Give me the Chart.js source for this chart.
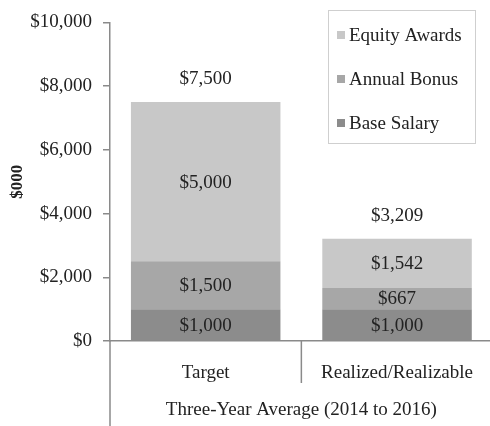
<!DOCTYPE html>
<html>
<head>
<meta charset="utf-8">
<script src="https://cdn.jsdelivr.net/npm/chart.js@4/dist/chart.umd.min.js"></script>
<style>
  html, body { margin: 0; padding: 0; background: #fff; overflow: hidden; }
  #wrap { width: 490px; height: 426px; overflow: hidden; }
</style>
</head>
<body>
<div id="wrap"><canvas id="c" width="494" height="426"></canvas></div>
<script>
const categories = ['Target', 'Realized/Realizable'];
const baseSalary = [1000, 1000];
const annualBonus = [1500, 667];
const equityAwards = [5000, 1542];
const yTicks = [0, 2000, 4000, 6000, 8000, 10000];

const FONT = "'Liberation Serif', 'Times New Roman', serif";
const TEXT = '#222222';
const AXIS = '#8a8a8a';
const fmt = v => '$' + Math.round(v).toLocaleString('en-US');

Chart.defaults.font.family = FONT;
Chart.defaults.font.size = 19;
Chart.defaults.color = TEXT;

const labelPlugin = {
  id: 'labels',
  afterDatasetsDraw(chart) {
    const ctx = chart.ctx;
    ctx.save();
    ctx.font = '19px ' + FONT;
    ctx.fillStyle = TEXT;
    ctx.textAlign = 'center';
    ctx.textBaseline = 'middle';
    const n = chart.data.datasets.length;
    chart.data.datasets.forEach((ds, di) => {
      const meta = chart.getDatasetMeta(di);
      meta.data.forEach((el, i) => {
        const y = (el.y + el.base) / 2;
        ctx.fillText(fmt(ds.data[i]), el.x, y + 1);
      });
    });
    const topMeta = chart.getDatasetMeta(n - 1);
    topMeta.data.forEach((el, i) => {
      let total = 0;
      chart.data.datasets.forEach(ds => total += ds.data[i]);
      ctx.fillText(fmt(total), el.x, el.y - 23);
    });
    ctx.restore();
  },
  afterDraw(chart) {
    const ctx = chart.ctx;
    const a = chart.chartArea;
    const xs = chart.scales.x;
    ctx.save();
    ctx.strokeStyle = AXIS;
    ctx.lineWidth = 1.5;
    // category divider tick
    const mid = (xs.getPixelForValue(0) + xs.getPixelForValue(1)) / 2;
    ctx.beginPath();
    ctx.moveTo(mid, a.bottom);
    ctx.lineTo(mid, a.bottom + 42);
    ctx.stroke();
    // left boundary extends down
    ctx.beginPath();
    ctx.moveTo(a.left, a.bottom);
    ctx.lineTo(a.left, chart.height);
    ctx.stroke();
    // legend box
    const bx = 328, by = 10, bw = 147, bh = 133;
    ctx.lineWidth = 1;
    ctx.strokeStyle = '#cfcfcf';
    ctx.strokeRect(bx + 0.5, by + 0.5, bw, bh);
    const order = [2, 1, 0];
    const ys = [35, 79, 123];
    ctx.font = '19px ' + FONT;
    ctx.textAlign = 'left';
    ctx.textBaseline = 'middle';
    order.forEach((di, k) => {
      const ds = chart.data.datasets[di];
      ctx.fillStyle = ds.backgroundColor;
      ctx.fillRect(bx + 9, ys[k] - 4, 8, 8);
      ctx.fillStyle = TEXT;
      ctx.fillText(ds.label, bx + 21, ys[k] + 1);
    });
    ctx.restore();
  }
};

new Chart(document.getElementById('c'), {
  type: 'bar',
  data: {
    labels: categories,
    datasets: [
      { label: 'Base Salary', data: baseSalary, backgroundColor: '#8c8c8c' },
      { label: 'Annual Bonus', data: annualBonus, backgroundColor: '#a7a7a7' },
      { label: 'Equity Awards', data: equityAwards, backgroundColor: '#c8c8c8' }
    ]
  },
  options: {
    responsive: false,
    animation: false,
    layout: { padding: { top: 22, right: 0, bottom: 0, left: 0 } },
    datasets: { bar: { barPercentage: 0.78125, categoryPercentage: 1.0 } },
    plugins: { legend: { display: false }, tooltip: { enabled: false } },
    scales: {
      x: {
        stacked: true,
        grid: { display: false, drawTicks: false },
        border: { display: true, color: AXIS, width: 1.5 },
        ticks: { padding: 21, font: { size: 19 }, color: TEXT },
        title: { display: true, text: 'Three-Year Average (2014 to 2016)', font: { size: 19 }, color: TEXT, padding: { top: 4, bottom: 5 } },
        afterFit(s) { s.height = 85; }
      },
      y: {
        stacked: true,
        min: 0,
        max: 10000,
        afterBuildTicks(s) { s.ticks = yTicks.map(v => ({ value: v })); },
        grid: { display: true, drawOnChartArea: false, drawTicks: true, tickLength: 7, color: AXIS, lineWidth: 1.5 },
        border: { display: true, color: AXIS, width: 1.5 },
        ticks: { padding: 11, font: { size: 19 }, color: TEXT, callback: v => fmt(v) },
        title: { display: true, text: '$000', font: { size: 17, weight: 'bold' }, color: TEXT, padding: { top: 7, bottom: 4 } },
        afterFit(s) { s.width = 110; }
      }
    }
  },
  plugins: [labelPlugin]
});
</script>
</body>
</html>
